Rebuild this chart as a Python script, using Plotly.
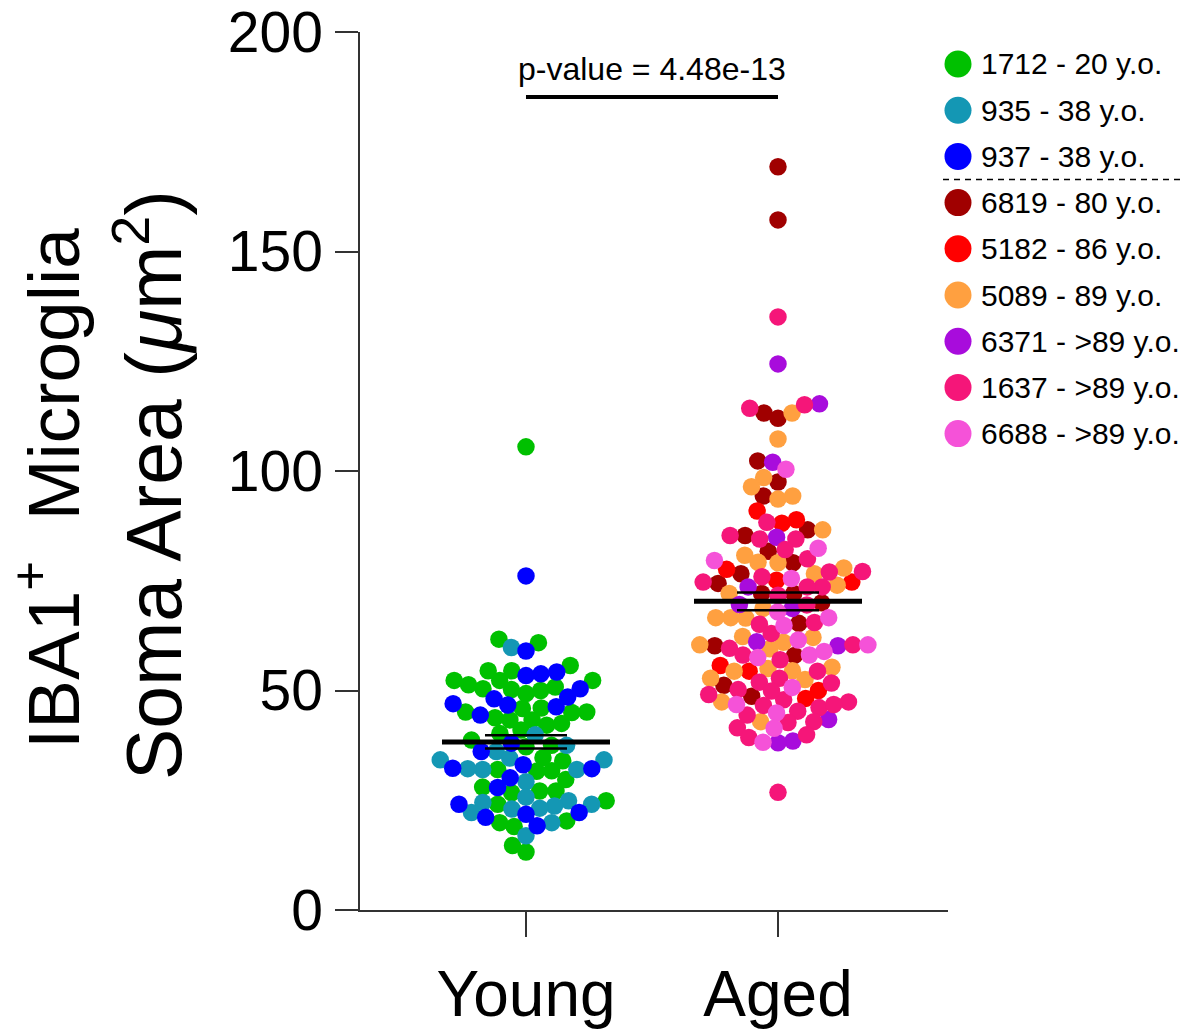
import numpy as np
import plotly.graph_objects as go

# ---------------- data ----------------
groups = ["Young", "Aged"]
donor_labels = ["1712 - 20 y.o.", "935 - 38 y.o.", "937 - 38 y.o.",
                "6819 - 80 y.o.", "5182 - 86 y.o.", "5089 - 89 y.o.",
                "6371 - >89 y.o.", "1637 - >89 y.o.", "6688 - >89 y.o."]
donor_colors = ["#00C000", "#1497B4", "#0000FF",
                "#A00000", "#FF0000", "#FFA040",
                "#A80CDC", "#F51679", "#F552D8"]
donor_group = [0, 0, 0, 1, 1, 1, 1, 1, 1]

d1712 = [105.5, 61.7, 60.9, 55.7, 54.5, 54.5, 52.3, 52.3, 52.3, 51.3, 50.8, 50.0, 49.3, 50.2,
         50.4, 45.9, 46.0, 45.1, 45.1, 42.5, 43.8, 43.3, 43.3, 45.0, 42.1, 41.0, 40.2, 37.2,
         38.7, 37.5, 34.0, 34.7, 31.6, 31.7, 32.0, 27.1, 29.7, 28.0, 27.1, 26.7, 24.9, 24.1,
         20.3, 19.0, 19.9, 14.7, 13.2]
d935 = [59.8, 39.9, 37.5, 36.1, 34.2, 34.6, 34.2, 32.0, 32.0, 32.2, 29.2, 25.7, 24.9, 24.1,
        23.7, 23.2, 24.5, 23.0, 22.2, 19.9, 16.9]
d937 = [76.1, 59.0, 53.4, 53.8, 54.2, 50.4, 48.5, 46.7, 47.0, 48.1, 46.3, 44.4, 38.0, 36.1,
        33.1, 32.2, 32.3, 30.1, 27.9, 24.1, 21.8, 22.2, 21.1, 19.2]
d6819 = [169.3, 157.2, 112.0, 113.2, 102.3, 97.5, 94.3, 86.6, 85.3, 81.7, 79.1, 76.6, 74.4,
         72.1, 72.1, 70.0, 65.3, 60.2, 58.0, 51.2, 48.7]
d5182 = [90.9, 88.1, 88.9, 77.6, 75.1, 74.7, 55.7, 54.4, 50.0, 48.2]
d5089 = [113.2, 107.3, 98.5, 96.4, 94.3, 93.6, 86.6, 79.2, 79.1, 80.8, 77.9, 76.6, 74.0, 72.1,
         68.7, 66.6, 66.5, 66.6, 62.3, 59.5, 61.0, 62.1, 60.4, 54.5, 52.8, 54.4, 55.3, 55.0,
         52.5, 47.4, 42.9]
d6371 = [124.4, 115.3, 102.0, 84.9, 73.6, 69.6, 68.7, 61.1, 60.2, 43.4, 38.5, 38.1]
d1637 = [135.1, 114.3, 115.1, 88.3, 85.3, 84.5, 84.5, 82.1, 80.0, 77.1, 77.0, 75.9, 74.7, 73.6,
         73.6, 71.7, 69.5, 65.5, 65.1, 63.0, 59.6, 60.4, 58.1, 57.0, 54.4, 52.8, 51.9, 51.7,
         50.2, 47.9, 49.9, 49.1, 47.4, 46.1, 46.8, 46.6, 45.3, 42.9, 42.7, 44.4, 41.5, 39.9,
         39.3, 26.8]
d6688 = [100.4, 82.4, 79.6, 75.5, 67.9, 66.6, 64.8, 61.5, 60.4, 58.9, 58.1, 57.5, 50.7, 46.8,
         44.9, 41.4, 38.2]
donor_values = [d1712, d935, d937, d6819, d5182, d5089, d6371, d1637, d6688]

p_text = "p-value = 4.48e-13"
y_ticks = [0, 50, 100, 150, 200]

# ---------------- geometry ----------------
# page body has an 8px default margin, so the figure is drawn 8px smaller/shifted
OFF = 8
W, H = 1191 - OFF, 1035 - OFF
ML, MT = 360 - OFF, 32 - OFF
PW, PH = 588, 878
MR, MB = W - ML - PW, H - MT - PH
XR = [-0.6587, 1.6746]
YR = [0, 200]
PX_X = PW / (XR[1] - XR[0])
PX_Y = PH / (YR[1] - YR[0])
FONT = "Liberation Sans, Arial, Helvetica, sans-serif"
DOT = 17.5
D = 15.0  # min center distance in px for swarm


def fx(px):  # reference page x-pixel -> paper x
    return (px - 360) / PW


def fy(py):  # reference page y-pixel -> paper y
    return (910 - py) / PH


def swarm(vals):
    ys = np.asarray(vals, float) * PX_Y
    xs = np.zeros(len(ys))
    placed = []
    for i in np.argsort(ys):
        y = ys[i]
        neigh = [(px, py) for px, py in placed if abs(py - y) < D]
        cands = [0.0]
        for px, py in neigh:
            dx = np.sqrt(D * D - (py - y) ** 2)
            cands += [px + dx, px - dx]
        cands.sort(key=lambda c: (abs(c), c))
        for c in cands:
            if all((c - px) ** 2 + (y - py) ** 2 >= D * D - 1e-6 for px, py in neigh):
                xs[i] = c
                break
        placed.append((xs[i], y))
    return xs / PX_X


fig = go.Figure()
shapes = []
annotations = []

for g in range(len(groups)):
    vals, cols = [], []
    for k, vlist in enumerate(donor_values):
        if donor_group[k] == g:
            vals += vlist
            cols += [donor_colors[k]] * len(vlist)
    vals = np.array(vals)
    offs = swarm(vals)
    fig.add_trace(go.Scatter(
        x=g + offs, y=vals, mode="markers", showlegend=False, hoverinfo="y",
        marker=dict(size=DOT, color=cols, line=dict(width=0))))
    m = vals.mean()
    sem = vals.std(ddof=1) / np.sqrt(len(vals))
    hw = 84 / PX_X
    shapes.append(dict(type="line", xref="x", yref="y", x0=g - hw, x1=g + hw, y0=m, y1=m,
                       line=dict(color="black", width=5)))
    hs = 41 / PX_X
    for yy in (m - sem, m + sem):
        shapes.append(dict(type="line", xref="x", yref="y", x0=g - hs, x1=g + hs, y0=yy, y1=yy,
                           line=dict(color="black", width=2.5)))

# significance bar
shapes.append(dict(type="line", xref="x", yref="y", x0=0, x1=1, y0=185.2, y1=185.2,
                   line=dict(color="black", width=4)))
annotations.append(dict(xref="x", yref="y", x=0.5, y=191.5, text=p_text, showarrow=False,
                        xanchor="center", yanchor="middle",
                        font=dict(family=FONT, size=32, color="black")))

# y-axis title (two lines)
annotations.append(dict(xref="paper", yref="paper", x=fx(48), y=fy(489),
                        text="IBA1<sup>+</sup>\u00a0 Microglia", textangle=-90, showarrow=False,
                        xanchor="center", yanchor="middle",
                        font=dict(family=FONT, size=73, color="black")))
annotations.append(dict(xref="paper", yref="paper", x=fx(148), y=fy(485),
                        text="Soma Area (<i>μ</i>m<sup>2</sup>)", textangle=-90, showarrow=False,
                        xanchor="center", yanchor="middle",
                        font=dict(family=FONT, size=77, color="black")))

# manual legend
for k, lab in enumerate(donor_labels):
    yp = fy(64 + k * 46.2)
    shapes.append(dict(type="circle", xref="paper", yref="paper",
                       xsizemode="pixel", ysizemode="pixel",
                       xanchor=fx(958), yanchor=yp,
                       x0=-13.5, x1=13.5, y0=-13.5, y1=13.5,
                       fillcolor=donor_colors[k], line=dict(width=0)))
    annotations.append(dict(xref="paper", yref="paper", x=fx(979), y=yp, text=lab,
                            showarrow=False, xanchor="left", yanchor="middle",
                            font=dict(family=FONT, size=30, color="black")))
shapes.append(dict(type="line", xref="paper", yref="paper", x0=fx(943), x1=fx(1191),
                   y0=fy(179.5), y1=fy(179.5),
                   line=dict(color="black", width=1.5, dash="6px,5px")))

fig.update_layout(
    template="none",
    width=W, height=H, margin=dict(l=ML, r=MR, t=MT, b=MB, pad=0, autoexpand=False),
    plot_bgcolor="white", paper_bgcolor="white",
    shapes=shapes, annotations=annotations, showlegend=False,
    font=dict(family=FONT, color="black"),
    xaxis=dict(range=XR, tickvals=[0, 1], ticktext=groups, showgrid=False, zeroline=False,
               automargin=False, ticklabeloverflow="allow",
               showline=True, linecolor="#333", linewidth=1.5, ticks="outside", ticklen=25,
               tickwidth=1.5, tickcolor="#333", tickfont=dict(family=FONT, size=64, color="black"),
               ticklabelstandoff=2),
    yaxis=dict(range=YR, tickvals=y_ticks, showgrid=False, zeroline=False,
               automargin=False, ticklabeloverflow="allow",
               showline=True, linecolor="#333", linewidth=1.5, ticks="outside", ticklen=23,
               tickwidth=1.5, tickcolor="#333", tickfont=dict(family=FONT, size=57, color="black"),
               ticklabelstandoff=1),
)

fig.write_html("out.html")
